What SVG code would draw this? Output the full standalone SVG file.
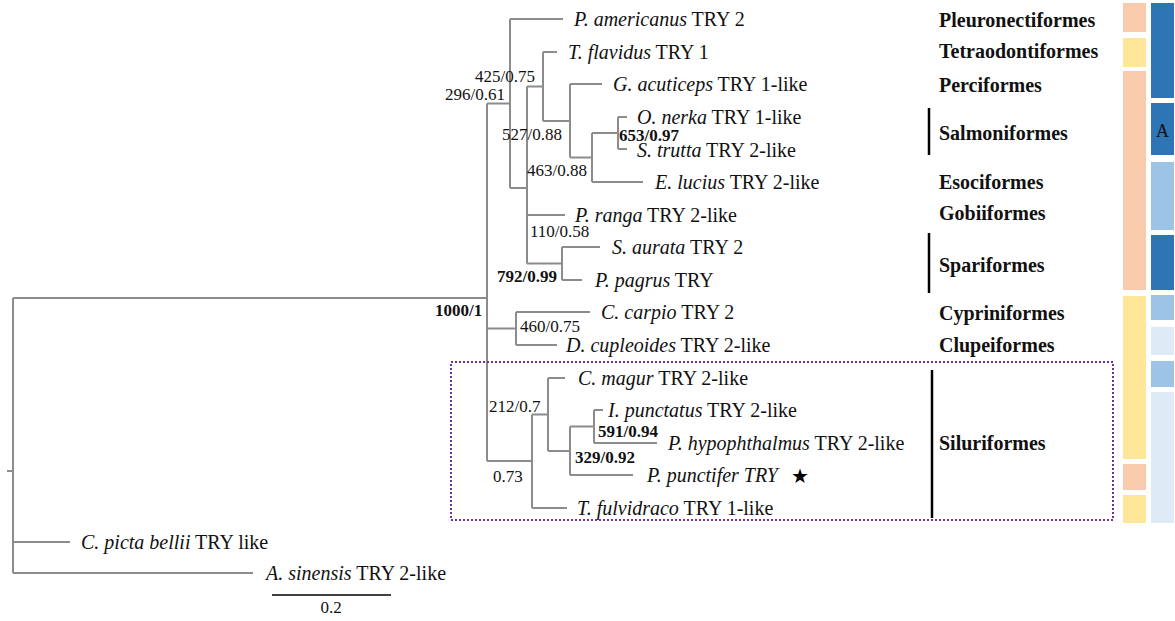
<svg xmlns="http://www.w3.org/2000/svg" width="1175" height="621" viewBox="0 0 1175 621">
<style>
.br{fill:none;stroke:#8c8c8c;stroke-width:2}
.t{font-family:"Liberation Serif","Times New Roman",serif;font-size:20px;fill:#111}
.i{font-style:italic}
.s{font-family:"Liberation Serif","Times New Roman",serif;font-size:17px;fill:#111}
.b{font-weight:bold}
.o{font-family:"Liberation Serif","Times New Roman",serif;font-size:20px;font-weight:bold;fill:#111}
.bar{stroke:#000;stroke-width:2.5}
.c1{fill:#F8CBAD}.c2{fill:#FFE699}.c3{fill:#2E75B6}.c4{fill:#9DC3E6}.c5{fill:#DEEBF7}
</style>
<rect width="1175" height="621" fill="#fff"/>
<g id="connectors">
<path class="br" d="M7 471H13M13 298V573M13 298H487M13 542H70M13 573H253
M487 103.5V461M487 103.5H510M487 328.5H516M487 461H532
M510 19V188M510 19H563M510 188H527
M527 86.5V263.5M527 86.5H543M527 215H565M527 263.5H562
M543 52V121M543 52H557M543 121H570
M570 84V157.5M570 84H602M570 157.5H592
M592 133V182M592 133H618M592 182H643
M618 117V149M618 117H627M618 149H627
M562 247V280M562 247H600M562 280H582
M516 312V345M516 312H590M516 345H557
M532 414.5V508M532 414.5H548M532 508H567
M548 378V451M548 378H565M548 451H570
M570 426.5V475M570 426.5H594M570 475H633
M594 410V443M594 410H603M594 443H657"/>
</g>
<g id="support">
<text class="s" x="475" y="82">425/0.75</text>
<text class="s" x="445" y="100">296/0.61</text>
<text class="s" x="502" y="140">527/0.88</text>
<text class="s b" x="619" y="141">653/0.97</text>
<text class="s" x="527" y="176">463/0.88</text>
<text class="s" x="530" y="237">110/0.58</text>
<text class="s b" x="497" y="282">792/0.99</text>
<text class="s b" x="435" y="316">1000/1</text>
<text class="s" x="520" y="332">460/0.75</text>
<text class="s" x="489" y="412">212/0.7</text>
<text class="s b" x="598" y="437">591/0.94</text>
<text class="s b" x="575" y="463">329/0.92</text>
<text class="s" x="493" y="482">0.73</text>
</g>
<g id="tip-americanus"><text class="t" x="574" y="26"><tspan class="i">P. americanus</tspan> TRY 2</text></g>
<g id="tip-flavidus"><text class="t" x="568" y="59"><tspan class="i">T. flavidus</tspan> TRY 1</text></g>
<g id="tip-acuticeps"><text class="t" x="613" y="91"><tspan class="i">G. acuticeps</tspan> TRY 1-like</text></g>
<g id="tip-nerka"><text class="t" x="637" y="124"><tspan class="i">O. nerka</tspan> TRY 1-like</text></g>
<g id="tip-trutta"><text class="t" x="637" y="157"><tspan class="i">S. trutta</tspan> TRY 2-like</text></g>
<g id="tip-lucius"><text class="t" x="655" y="189"><tspan class="i">E. lucius</tspan> TRY 2-like</text></g>
<g id="tip-ranga"><text class="t" x="575" y="222"><tspan class="i">P. ranga</tspan> TRY 2-like</text></g>
<g id="tip-aurata"><text class="t" x="612" y="254"><tspan class="i">S. aurata</tspan> TRY 2</text></g>
<g id="tip-pagrus"><text class="t" x="595" y="287"><tspan class="i">P. pagrus</tspan> TRY</text></g>
<g id="tip-carpio"><text class="t" x="601" y="319"><tspan class="i">C. carpio</tspan> TRY 2</text></g>
<g id="tip-cupleoides"><text class="t" x="566" y="352"><tspan class="i">D. cupleoides</tspan> TRY 2-like</text></g>
<g id="tip-magur"><text class="t" x="578" y="385"><tspan class="i">C. magur</tspan> TRY 2-like</text></g>
<g id="tip-punctatus"><text class="t" x="608" y="417"><tspan class="i">I. punctatus</tspan> TRY 2-like</text></g>
<g id="tip-hypophthalmus"><text class="t" x="668" y="450"><tspan class="i">P. hypophthalmus</tspan> TRY 2-like</text></g>
<g id="tip-punctifer"><text class="t i" x="647" y="482">P. punctifer TRY</text><text x="800" y="483" font-family="DejaVu Sans,sans-serif" font-size="20" text-anchor="middle" fill="#000">★</text></g>
<g id="tip-fulvidraco"><text class="t" x="577" y="515"><tspan class="i">T. fulvidraco</tspan> TRY 1-like</text></g>
<g id="tip-picta"><text class="t" x="81" y="549"><tspan class="i">C. picta bellii</tspan> TRY like</text></g>
<g id="tip-sinensis"><text class="t" x="266" y="580"><tspan class="i">A. sinensis</tspan> TRY 2-like</text></g>
<g id="scalebar"><line x1="272" y1="595" x2="391" y2="595" stroke="#000" stroke-width="1.5"/><text class="s" x="331" y="613" text-anchor="middle">0.2</text></g>
<g id="siluriformes-box"><rect x="451" y="362" width="662" height="158" fill="none" stroke="#7030A0" stroke-width="2" stroke-dasharray="2 2"/></g>
<g id="orders">
<text class="o" x="939" y="27">Pleuronectiformes</text>
<text class="o" x="939" y="58">Tetraodontiformes</text>
<text class="o" x="939" y="92">Perciformes</text>
<text class="o" x="939" y="140">Salmoniformes</text>
<text class="o" x="939" y="189">Esociformes</text>
<text class="o" x="939" y="220">Gobiiformes</text>
<text class="o" x="939" y="272">Spariformes</text>
<text class="o" x="939" y="320">Cypriniformes</text>
<text class="o" x="939" y="352">Clupeiformes</text>
<text class="o" x="939" y="450">Siluriformes</text>
<line class="bar" x1="929" y1="108" x2="929" y2="155"/>
<line class="bar" x1="929" y1="233" x2="929" y2="293"/>
<line class="bar" x1="932" y1="370" x2="932" y2="518"/>
</g>
<g id="colorbar-1">
<rect class="c1" x="1123" y="3" width="23" height="29"/>
<rect class="c2" x="1123" y="38" width="23" height="29"/>
<rect class="c1" x="1123" y="71" width="23" height="219"/>
<rect class="c2" x="1123" y="296" width="23" height="163"/>
<rect class="c1" x="1123" y="464" width="23" height="26"/>
<rect class="c2" x="1123" y="495" width="23" height="28"/>
</g>
<g id="colorbar-2">
<rect class="c3" x="1151" y="3" width="23" height="95"/>
<rect class="c3" x="1151" y="103" width="23" height="52"/>
<text x="1162.5" y="137" font-family="Liberation Serif,serif" font-size="18" text-anchor="middle" fill="#111">A</text>
<rect class="c4" x="1151" y="162" width="23" height="68"/>
<rect class="c3" x="1151" y="235" width="23" height="55"/>
<rect class="c4" x="1151" y="295" width="23" height="25"/>
<rect class="c5" x="1151" y="327" width="23" height="28"/>
<rect class="c4" x="1151" y="361" width="23" height="26"/>
<rect class="c5" x="1151" y="392" width="23" height="131"/>
</g>
</svg>
